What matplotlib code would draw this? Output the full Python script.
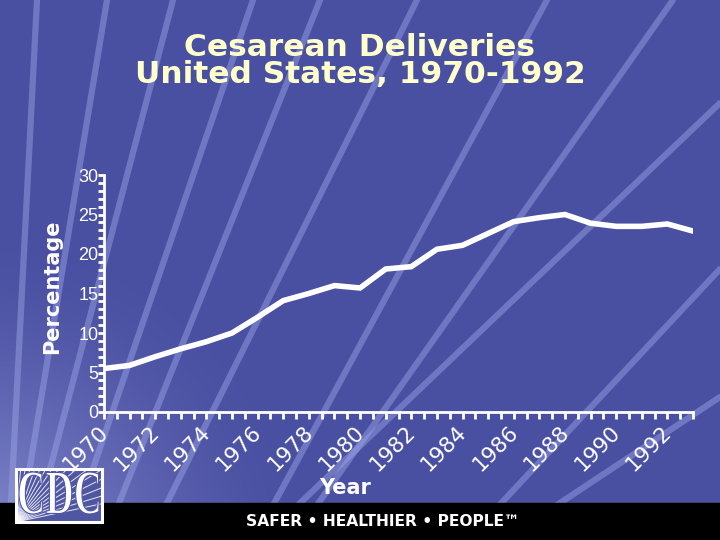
import numpy as np
import matplotlib
matplotlib.use("Agg")
import matplotlib.pyplot as plt
from matplotlib.patches import Rectangle, PathPatch
from matplotlib.textpath import TextPath
from matplotlib.font_manager import FontProperties
from matplotlib.transforms import Affine2D, ScaledTranslation

# ---- data ----
years = [1970, 1971, 1972, 1973, 1974, 1975, 1976, 1977, 1978, 1979, 1980, 1981,
         1982, 1983, 1984, 1985, 1986, 1987, 1988, 1989, 1990, 1991, 1992, 1993]
rates = [5.5, 5.9, 7.0, 8.0, 8.9, 10.0, 12.0, 14.1, 15.0, 16.0, 15.7, 18.1,
         18.4, 20.6, 21.1, 22.6, 24.1, 24.6, 25.0, 23.9, 23.5, 23.5, 23.8, 22.9]
xtick_years = list(range(1970, 1993, 2))
ytick_vals = [0, 5, 10, 15, 20, 25, 30]

title_text = "Cesarean Deliveries\nUnited States, 1970-1992"
ylabel_text = "Percentage"
xlabel_text = "Year"
footer_text = "SAFER \u2022 HEALTHIER \u2022 PEOPLE\u2122"

W, H = 720, 540
fig = plt.figure(figsize=(7.2, 5.4), dpi=100)

# ---- background (decorative) ----
bg = fig.add_axes([0, 0, 1, 1])
bg.set_xlim(0, W)
bg.set_ylim(H, 0)
bg.axis("off")
yy, xx = np.mgrid[0:H, 0:W]
base = np.array([73, 79, 161]) / 255.0
light = np.array([140, 146, 210]) / 255.0
d = np.sqrt((xx + 20) ** 2 + ((yy - 560) * 1.0) ** 2)
t = np.clip(1 - d / 340.0, 0, 1) ** 1.6
img = base[None, None, :] * (1 - t[..., None]) + light[None, None, :] * t[..., None]
bg.imshow(img, extent=[0, W, H, 0], aspect="auto", zorder=0)

# decorative straight rays, each through two points (pixel coords, y down)
rays = [((37, 0), (13, 465)), ((107, 0), (33, 448)), ((173, 0), (60, 431)),
        ((253, 0), (100, 448)), ((320, 0), (127, 483)), ((417, 0), (160, 517)),
        ((547, 0), (360, 345)), ((673, 0), (420, 359)), ((720, 103), (593, 224)),
        ((720, 269), (507, 497)), ((720, 397), (560, 503))]
for (x1, y1), (x2, y2) in rays:
    s = (x2 - x1) / (y2 - y1)
    ya, yb = -10, 560
    bg.plot([x1 + s * (ya - y1), x1 + s * (yb - y1)], [ya, yb],
            color=(0.62, 0.66, 0.92), alpha=0.45, lw=4.5,
            solid_capstyle="butt", zorder=1)

# black footer bar
bg.add_patch(Rectangle((0, 503), W, H - 503, color="black", zorder=3))
bg.text(383, 521, footer_text, color="white", fontsize=11.2, fontweight="bold",
        ha="center", va="center", zorder=4, family="DejaVu Sans")

# CDC logo
box = (16, 469, 86, 53)
bg.add_patch(Rectangle(box[:2], box[2], box[3], facecolor=(0.31, 0.34, 0.64),
                       edgecolor="none", zorder=4))
clip = Rectangle(box[:2], box[2], box[3], transform=bg.transData)
for ang in np.linspace(12, 85, 16):
    r = np.deg2rad(ang)
    x0, y0 = 16, 522
    ln, = bg.plot([x0, x0 + 130 * np.cos(r)], [y0, y0 - 130 * np.sin(r)],
                  color="white", lw=0.7, alpha=0.85, zorder=5)
    ln.set_clip_path(clip)
bg.add_patch(Rectangle(box[:2], box[2], box[3], facecolor="none",
                       edgecolor="white", lw=2.2, zorder=6))
fp = FontProperties(family="Liberation Serif", weight="bold")
tp = TextPath((0, 0), "CDC", prop=fp, size=1)
ext = tp.get_extents()
sx = 80 / ext.width
sy = 42 / ext.height
trans = Affine2D().translate(-ext.x0, -ext.y0).scale(sx, -sy).translate(19, 514)
tp2 = trans.transform_path(tp)
bg.add_patch(PathPatch(tp2, facecolor="white", edgecolor=(0.31, 0.34, 0.64),
                       lw=0.8, zorder=7))

# ---- chart ----
ax = fig.add_axes([104 / W, 1 - 412 / H, (693 - 104) / W, (412 - 175) / H])
ax.patch.set_alpha(0)
ax.plot(years, rates, color="white", lw=4, solid_joinstyle="miter", zorder=5)
ax.set_xlim(1970, 1993)
ax.set_ylim(0, 30)
for s in ["top", "right"]:
    ax.spines[s].set_visible(False)
for s in ["left", "bottom"]:
    ax.spines[s].set_color("white")
    ax.spines[s].set_linewidth(2)

ax.set_yticks(ytick_vals)
ax.set_yticks(np.arange(0, 31, 1), minor=True)
ax.set_yticklabels([str(v) for v in ytick_vals], color="white", fontsize=13,
                   family=["Liberation Sans", "DejaVu Sans"])
ax.tick_params(axis="y", which="both", direction="out", length=4, width=2,
               colors="white", pad=0)

ax.set_xticks(xtick_years)
ax.set_xticks(np.arange(1970, 1993.01, 0.5), minor=True)
ax.set_xticklabels([str(v) for v in xtick_years], color="white", fontsize=15.5,
                   rotation=45, ha="right", va="top", rotation_mode="anchor",
                   family="DejaVu Sans")
ax.tick_params(axis="x", which="both", direction="out", length=5, width=2,
               colors="white", pad=2)
off = ScaledTranslation(-6 / 100, 0, fig.dpi_scale_trans)
for lbl in ax.get_xticklabels():
    lbl.set_transform(lbl.get_transform() + off)

fig.text(52 / W, 1 - 287 / H, ylabel_text, rotation=90, color="white", fontsize=15,
         fontweight="bold", ha="center", va="center", family="DejaVu Sans")
fig.text(345 / W, 1 - 488 / H, xlabel_text, color="white", fontsize=15,
         fontweight="bold", ha="center", va="center", family="DejaVu Sans")
fig.text(360 / W, 1 - 61 / H, title_text, color="#FFFFCC", fontsize=22.5,
         fontweight="bold", ha="center", va="center", linespacing=0.95,
         family="DejaVu Sans")

fig.savefig("out.png", dpi=100)
